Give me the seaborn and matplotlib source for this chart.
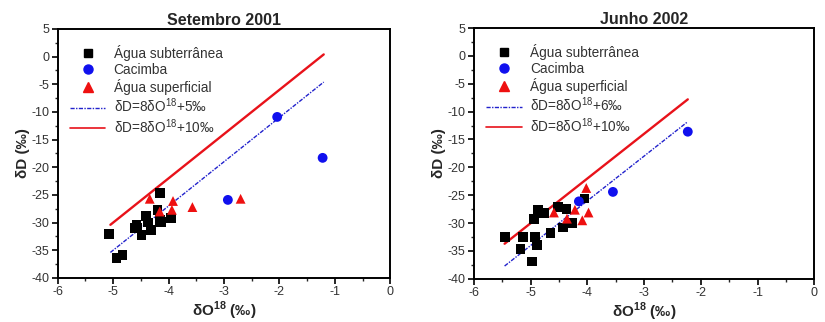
import numpy as np
import pandas as pd
import matplotlib
matplotlib.use("Agg")
import matplotlib.pyplot as plt
from matplotlib.lines import Line2D
from matplotlib.ticker import MultipleLocator
import seaborn as sns

sns.set_style("white")
plt.rcParams["font.family"] = ["Liberation Sans", "DejaVu Sans"]
plt.rcParams["mathtext.fontset"] = "custom"
plt.rcParams["mathtext.rm"] = "Liberation Sans"
plt.rcParams["mathtext.bf"] = "Liberation Sans:bold"
plt.rcParams["axes.unicode_minus"] = False

TIPOS = ["Água subterrânea", "Cacimba", "Água superficial"]
CORES = {"Água subterrânea": "black", "Cacimba": "#1010ee", "Água superficial": "#ee1010"}
MARCAS = {"Água subterrânea": "s", "Cacimba": "o", "Água superficial": "^"}

# ---- Setembro 2001 ----
set_sub_o = [-5.07, -4.94, -4.83, -4.58, -4.57, -4.60, -4.49, -4.41, -4.37, -4.31,
             -4.20, -4.15, -4.16, -4.13, -3.95]
set_sub_d = [-32.0, -36.4, -35.8, -30.4, -30.9, -31.0, -32.3, -28.8, -30.0, -31.4,
             -27.8, -24.6, -29.5, -29.9, -29.1]
set_cac_o = [-2.93, -2.04, -1.22]
set_cac_d = [-25.9, -10.9, -18.3]
set_sup_o = [-4.34, -3.92, -4.16, -3.94, -3.57, -2.70]
set_sup_d = [-25.7, -26.1, -28.0, -27.7, -27.2, -25.7]
set_linha_x = [-5.05, -1.2]
set_azul_y = [-35.4, -4.6]
set_verm_y = [-30.4, 0.4]

# ---- Junho 2002 ----
jun_sub_o = [-5.46, -5.18, -5.14, -4.94, -4.93, -4.89, -4.97, -4.87, -4.76, -4.65,
             -4.52, -4.37, -4.43, -4.27, -4.05]
jun_sub_d = [-32.5, -34.6, -32.5, -29.2, -32.5, -33.9, -36.9, -27.7, -28.2, -31.8,
             -27.1, -27.4, -30.8, -30.0, -25.6]
jun_cac_o = [-4.15, -3.55, -2.23]
jun_cac_d = [-26.1, -24.4, -13.6]
jun_sup_o = [-4.59, -4.36, -4.22, -4.02, -4.09, -3.98]
jun_sup_d = [-28.1, -29.2, -27.6, -23.7, -29.5, -28.1]
jun_linha_x = [-5.46, -2.23]
jun_azul_y = [-37.7, -11.8]
jun_verm_y = [-33.7, -7.8]


def monta(sub_o, sub_d, cac_o, cac_d, sup_o, sup_d):
    partes = []
    for t, o, d in zip(TIPOS, [sub_o, cac_o, sup_o], [sub_d, cac_d, sup_d]):
        partes.append(pd.DataFrame({"o18": o, "dD": d, "tipo": t}))
    return pd.concat(partes, ignore_index=True)


def painel(ax, df, lx, azul_y, verm_y, titulo, rot_azul):
    sns.lineplot(x=lx, y=verm_y, ax=ax, color="#e8121a", lw=1.7, legend=False)
    sns.lineplot(x=lx, y=azul_y, ax=ax, color="#2222cc", lw=1.0, ls=(0, (3, 1, 1, 1)),
                 legend=False)
    sns.scatterplot(data=df, x="o18", y="dD", hue="tipo", style="tipo",
                    palette=CORES, markers=MARCAS, s=50, edgecolor="none",
                    ax=ax, legend=False, zorder=3)
    ax.set_xlim(-6, 0)
    ax.set_ylim(-40, 5)
    ax.xaxis.set_major_locator(MultipleLocator(1))
    ax.xaxis.set_minor_locator(MultipleLocator(0.5))
    ax.yaxis.set_major_locator(MultipleLocator(5))
    ax.yaxis.set_minor_locator(MultipleLocator(2.5))
    ax.tick_params(which="major", direction="out", length=4, width=1.2,
                   labelsize=9, colors="black", labelcolor="#333333",
                   bottom=True, left=True, pad=2)
    ax.tick_params(which="minor", direction="out", length=2.5, width=1.0,
                   bottom=True, left=True)
    for s in ax.spines.values():
        s.set_visible(True)
        s.set_color("black")
        s.set_linewidth(1.4)
    ax.set_title(titulo, fontsize=11.5, fontweight="bold", pad=3)
    ax.set_xlabel("δO$^{\\mathbf{18}}$ (‰)", fontsize=11, fontweight="bold", labelpad=1)
    ax.set_ylabel("δD (‰)", fontsize=11, fontweight="bold", labelpad=1)

    alcas = [
        Line2D([], [], ls="none", marker="s", color="black", markersize=6),
        Line2D([], [], ls="none", marker="o", color="#1010ee", markersize=6.5),
        Line2D([], [], ls="none", marker="^", color="#ee1010", markersize=7),
        Line2D([], [], color="#2222cc", lw=1.0, ls=(0, (3, 1, 1, 1))),
        Line2D([], [], color="#e8121a", lw=1.2),
    ]
    textos = TIPOS + [rot_azul, "δD=8δO$^{18}$+10‰"]
    leg = ax.legend(alcas, textos, loc="upper left", frameon=False, fontsize=9.8,
                    handlelength=2.6, handletextpad=0.6, labelspacing=0.14,
                    borderaxespad=0.5, bbox_to_anchor=(0.0, 0.985))
    for t in leg.get_texts():
        t.set_color("#333333")


fig = plt.figure(figsize=(8.25, 3.22), dpi=100)
ax1 = fig.add_axes([0.070, 0.137, 0.403, 0.773])
ax2 = fig.add_axes([0.5745, 0.134, 0.4125, 0.779])

painel(ax1, monta(set_sub_o, set_sub_d, set_cac_o, set_cac_d, set_sup_o, set_sup_d),
       set_linha_x, set_azul_y, set_verm_y, "Setembro 2001", "δD=8δO$^{18}$+5‰")
painel(ax2, monta(jun_sub_o, jun_sub_d, jun_cac_o, jun_cac_d, jun_sup_o, jun_sup_d),
       jun_linha_x, jun_azul_y, jun_verm_y, "Junho 2002", "δD=8δO$^{18}$+6‰")

fig.savefig("out.png", dpi=100)
